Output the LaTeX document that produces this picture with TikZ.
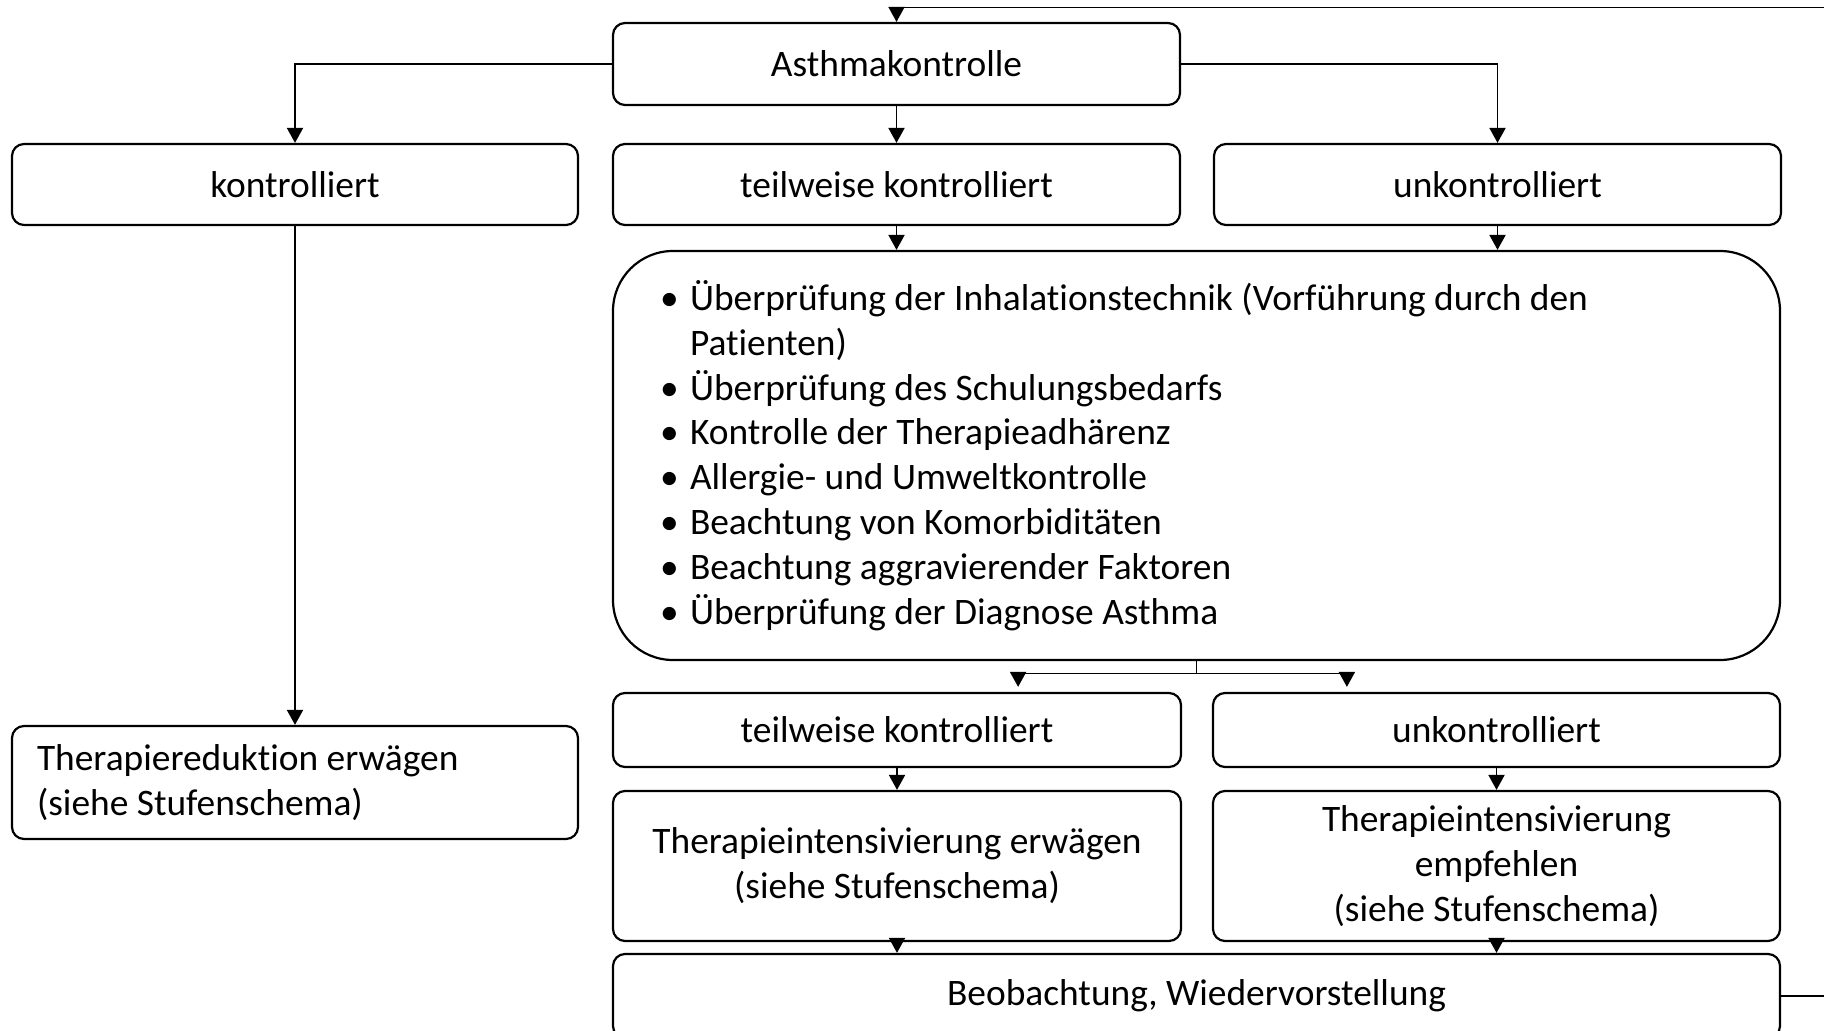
\documentclass[tikz,border=0pt]{standalone}
\usepackage{fontspec}
\setmainfont[Ligatures=CommonOff,Contextuals=AlternateOff]{Carlito}
\usetikzlibrary{arrows.meta,positioning}
\tikzstyle{field}=[
	rectangle,
	rounded corners=6pt,
	draw=black,
	line width=1.1pt,
	inner sep=0pt,
	align=center,
	font=\fontsize{18.7}{22.4}\selectfont
]
\tikzstyle{flow}=[
	-{Triangle[width=8pt,length=7.5pt]},
	line width=0.95pt
]
\tikzstyle{link}=[
	line width=0.95pt
]
\newcommand{\punkt}{\makebox[15pt][l]{\textbullet}}

\begin{document}
\begin{tikzpicture}[x=0.5pt,y=-0.5pt]
\useasboundingbox (0,0) rectangle (1824,1031);
\node [field, minimum width=283.5pt, minimum height=41pt] (asth) at (896.5,64) {Asthmakontrolle};
\node [field, minimum width=283.5pt, minimum height=40.5pt] (teil)[below=18.4pt of asth] {teilweise kontrolliert};
\node [field, minimum width=283pt, minimum height=40.5pt] (kon)[left=16.4pt of teil] {kontrolliert};
\node [field, minimum width=283.5pt, minimum height=40.5pt] (unk)[right=15.9pt of teil] {unkontrolliert};
\node [field, rounded corners=30pt, minimum width=583.5pt, minimum height=204.5pt,
	text width=536.5pt, inner xsep=23.5pt, align=flush left]
	(massn)[below=11.9pt of teil.south west, anchor=north west] {%
	\punkt Überprüfung der Inhalationstechnik (Vorführung durch den\\
	\hspace*{15pt}Patienten)\\
	\punkt Überprüfung des Schulungsbedarfs\\
	\punkt Kontrolle der Therapieadhärenz\\
	\punkt Allergie- und Umweltkontrolle\\
	\punkt Beachtung von Komorbiditäten\\
	\punkt Beachtung aggravierender Faktoren\\
	\punkt Überprüfung der Diagnose Asthma};
\node [field, minimum width=284pt, minimum height=37pt] (teil2)[below=15.4pt of massn.south west, anchor=north west] {teilweise kontrolliert};
\node [field, minimum width=283.5pt, minimum height=37pt] (unk2)[below=15.4pt of massn.south east, anchor=north east] {unkontrolliert};
\node [field, minimum width=284pt, minimum height=75pt] (erw)[below=10.9pt of teil2] {Therapieintensivierung erwägen\\(siehe Stufenschema)};
\node [field, minimum width=283.5pt, minimum height=75pt] (empf)[below=10.9pt of unk2] {Therapieintensivierung\\empfehlen\\(siehe Stufenschema)};
\node [field, minimum width=583.5pt, minimum height=42pt] (beob)[below=5.4pt of erw.south west, anchor=north west] {Beobachtung, Wiedervorstellung};
\node [field, minimum width=283pt, minimum height=56.5pt, text width=258pt, inner xsep=12.5pt, align=flush left]
	(red)[below=249.4pt of kon] {Therapiereduktion erwägen\\(siehe Stufenschema)};
% Verbindungen
\draw [flow] (asth.west) -| (kon.north);
\draw [flow] (asth.east) -| (unk.north);
\draw [flow] (asth.south) -- (teil.north);
\draw [flow] (teil.south) -- (teil.south |- massn.north);
\draw [flow] (unk.south) -- (unk.south |- massn.north);
\draw [flow] (kon.south) -- (red.north);
\coordinate (split) at ([yshift=-6.2pt]massn.south);
\draw [link] (massn.south) -- (split);
\draw [flow, shorten >=2.5pt] (split) -| ([xshift=-82pt]teil2.north east);
\draw [flow, shorten >=2.5pt] (split) -| ([xshift=67.5pt]unk2.north west);
\draw [flow] (teil2.south) -- (erw.north);
\draw [flow] (unk2.south) -- (empf.north);
\draw [flow] (erw.south) -- (erw.south |- beob.north);
\draw [flow] (empf.south) -- (empf.south |- beob.north);
\coordinate (ecke) at (1827,7.5);
\draw [flow] (beob.east) -| (ecke) -| (asth.north);
\end{tikzpicture}
\end{document}
